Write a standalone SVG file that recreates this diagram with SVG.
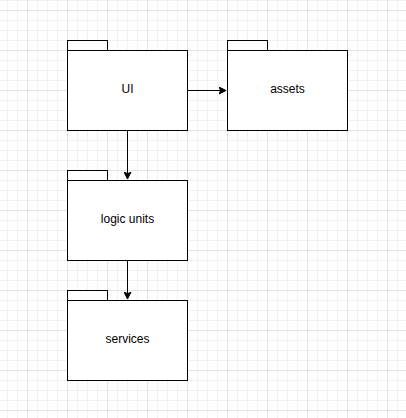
<svg xmlns="http://www.w3.org/2000/svg" width="406" height="418" viewBox="0 0 406 418">
<defs>
<pattern id="minor" patternUnits="userSpaceOnUse" x="7" y="0" width="10" height="10">
<path d="M0.5 0V10M0 0.5H10" fill="none" stroke="#f1f1f1" stroke-width="1"/>
</pattern>
<pattern id="major" patternUnits="userSpaceOnUse" x="27" y="10" width="40" height="40">
<path d="M0.5 0V40M0 0.5H40" fill="none" stroke="#e2e2e2" stroke-width="1"/>
</pattern>
<marker id="arr" viewBox="0 0 8 8" refX="7" refY="4" markerWidth="8" markerHeight="8" markerUnits="userSpaceOnUse" orient="auto">
<path d="M0 0.5L7 4L0 7.5L1.75 4Z" fill="#000" stroke="#000" stroke-width="1"/>
</marker>
<style>
.box{fill:#fff;stroke:#000;stroke-width:1}
.lbl{font-family:"Liberation Sans",Arial,sans-serif;font-size:12px;fill:#000;text-anchor:middle}
.edge{fill:none;stroke:#000;stroke-width:1}
</style>
</defs>
<rect width="406" height="418" fill="#fff"/>
<rect width="406" height="418" fill="url(#minor)"/>
<rect width="406" height="418" fill="url(#major)"/>
<g id="connectors">
<path class="edge" d="M187.5 90.5H226" marker-end="url(#arr)"/>
<path class="edge" d="M127.5 130.5V179" marker-end="url(#arr)"/>
<path class="edge" d="M127.5 260.5V299" marker-end="url(#arr)"/>
</g>
<g id="ui">
<rect class="box" x="67.5" y="40.5" width="40" height="10"/>
<rect class="box" x="67.5" y="50.5" width="120" height="80"/>
<text class="lbl" x="127.5" y="93">UI</text>
</g>
<g id="assets">
<rect class="box" x="227.5" y="40.5" width="40" height="10"/>
<rect class="box" x="227.5" y="50.5" width="120" height="80"/>
<text class="lbl" x="287.5" y="93">assets</text>
</g>
<g id="logic-units">
<rect class="box" x="67.5" y="170.5" width="40" height="10"/>
<rect class="box" x="67.5" y="180.5" width="120" height="80"/>
<text class="lbl" x="127.5" y="223">logic units</text>
</g>
<g id="services">
<rect class="box" x="67.5" y="290.5" width="40" height="10"/>
<rect class="box" x="67.5" y="300.5" width="120" height="80"/>
<text class="lbl" x="127.5" y="343">services</text>
</g>
</svg>
